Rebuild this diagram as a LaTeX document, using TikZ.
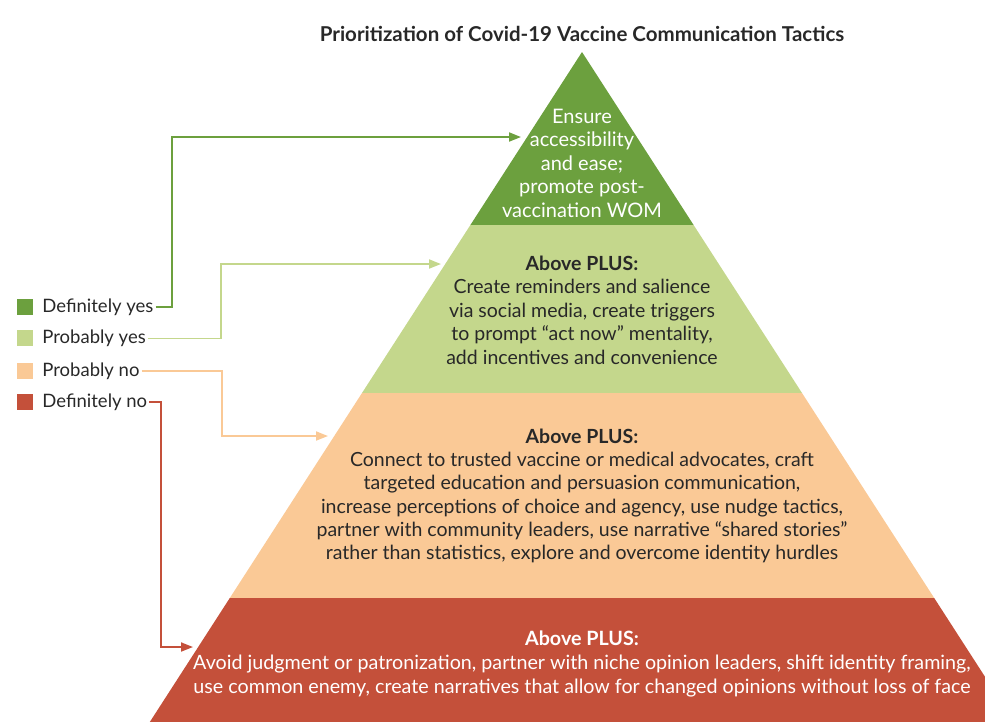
\documentclass[tikz,border=0pt]{standalone}
\usepackage{fontspec}
\setmainfont{Lato}
\usepackage{xcolor}
\usetikzlibrary{positioning}
\usetikzlibrary{arrows, arrows.meta}

\definecolor{defyes}{RGB}{108,160,62}
\definecolor{probyes}{RGB}{196,215,140}
\definecolor{probno}{RGB}{250,201,150}
\definecolor{defno}{RGB}{196,80,58}
\definecolor{inktext}{RGB}{40,40,40}

\tikzset{
  legendkey/.style={minimum size=16pt, inner sep=0pt},
  legendtext/.style={anchor=west, text=inktext, inner sep=2pt,
    font=\fontsize{18.5}{21}\selectfont},
  tiertext/.style={align=center, inner sep=0pt},
  linkarrow/.style={line width=1.8pt, -{Triangle[length=12pt,width=9pt]}},
}

\begin{document}
\begin{tikzpicture}[x=1pt,y=-1pt]
  \useasboundingbox (0,0) rectangle (985,721);
  \clip (0,0) rectangle (985,721);

  % pyramid corners
  \coordinate (apex) at (582,52);
  \coordinate (l1) at (470.4,225);
  \coordinate (r1) at (693.6,225);
  \coordinate (l2) at (362,393);
  \coordinate (r2) at (802,393);
  \coordinate (l3) at (229.8,598);
  \coordinate (r3) at (934.2,598);
  \coordinate (l4) at (138.2,740);
  \coordinate (r4) at (1025.8,740);

  \fill[defyes] (apex) -- (r1) -- (l1) -- cycle;
  \fill[probyes] (l1) -- (r1) -- (r2) -- (l2) -- cycle;
  \fill[probno] (l2) -- (r2) -- (r3) -- (l3) -- cycle;
  \fill[defno] (l3) -- (r3) -- (r4) -- (l4) -- cycle;

  \node[font=\bfseries\fontsize{20.5}{24}\selectfont, text=inktext] (title)
    at (582,34) {Prioritization of Covid-19 Vaccine Communication Tactics};

  % tiers
  \node[tiertext, text=white, font=\fontsize{20}{23.5}\selectfont] (tier1) at (582,163)
    {Ensure\\accessibility\\and ease;\\promote post-\\vaccination WOM};
  \node[tiertext, text=inktext, font=\fontsize{19.5}{23.5}\selectfont] (tier2) at (582,310)
    {\textbf{Above PLUS:}\\Create reminders and salience\\via social media, create triggers\\to prompt “act now” mentality,\\add incentives and convenience};
  \node[tiertext, text=inktext, font=\fontsize{19.5}{23.3}\selectfont] (tier3) at (582,496)
    {\textbf{Above PLUS:}\\Connect to trusted vaccine or medical advocates, craft\\targeted education and persuasion communication,\\increase perceptions of choice and agency, use nudge tactics,\\partner with community leaders, use narrative “shared stories”\\rather than statistics, explore and overcome identity hurdles};
  \node[tiertext, text=white, font=\fontsize{19.7}{24}\selectfont] (tier4) at (582,664)
    {\textbf{Above PLUS:}\\Avoid judgment or patronization, partner with niche opinion leaders, shift identity framing,\\use common enemy, create narratives that allow for changed opinions without loss of face};

  % legend
  \node[legendkey, fill=defyes] (keydy) at (25,307) {};
  \node[legendtext, right=7pt of keydy] (legdy) {Definitely yes};
  \node[legendkey, fill=probyes, below=15pt of keydy] (keypy) {};
  \node[legendtext, right=7pt of keypy] (legpy) {Probably yes};
  \node[legendkey, fill=probno, below=16pt of keypy] (keypn) {};
  \node[legendtext, right=7pt of keypn] (legpn) {Probably no};
  \node[legendkey, fill=defno, below=15pt of keypn] (keydn) {};
  \node[legendtext, right=7pt of keydn] (legdn) {Definitely no};

  % arrows
  \coordinate (kneeA) at (172,137);
  \coordinate (tipA) at (521,137);
  \coordinate (kneeB) at (221,264);
  \coordinate (tipB) at (441,264);
  \coordinate (kneeC) at (222,436);
  \coordinate (tipC) at (328,436);
  \coordinate (kneeD) at (161,647);
  \coordinate (tipD) at (193,647);

  \draw[linkarrow, defyes] (legdy.east) -| (kneeA) -- (tipA);
  \draw[linkarrow, probyes] (legpy.east) -| (kneeB) -- (tipB);
  \draw[linkarrow, probno] (legpn.east) -| (kneeC) -- (tipC);
  \draw[linkarrow, defno] (legdn.east) -| (kneeD) -- (tipD);

\end{tikzpicture}
\end{document}
